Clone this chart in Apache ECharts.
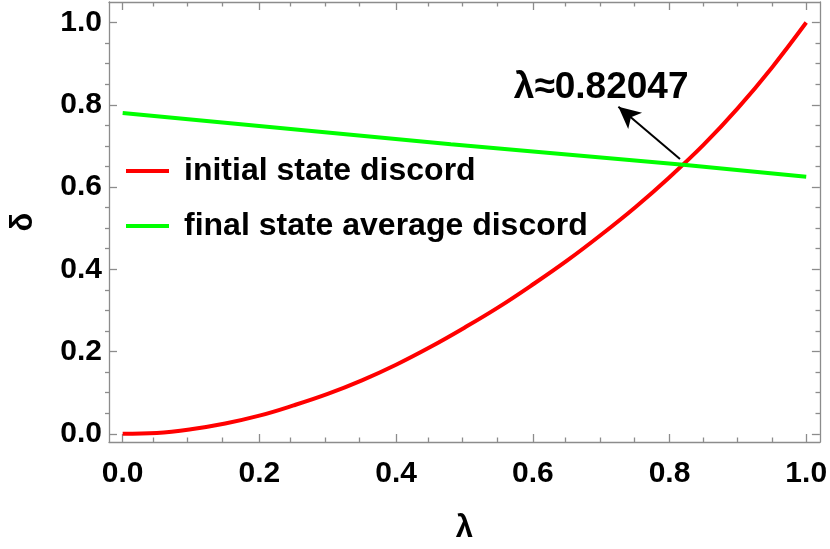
<!DOCTYPE html>
<html>
<head>
<meta charset="utf-8">
<script src="https://cdn.jsdelivr.net/npm/echarts@6/dist/echarts.min.js"></script>
<style>
  html, body { margin: 0; padding: 0; background: #fff; }
  #chart { width: 830px; height: 549px; }
</style>
</head>
<body>
<div id="chart"></div>
<script>
// data
const lambdaVals = [0, 0.05, 0.1, 0.15, 0.2, 0.25, 0.3, 0.35, 0.4, 0.45, 0.5,
  0.55, 0.6, 0.65, 0.7, 0.75, 0.8, 0.85, 0.9, 0.95, 1.0];
const initialDiscord = [0, 0.002, 0.011, 0.025, 0.044, 0.069, 0.097, 0.130, 0.168, 0.211, 0.258,
  0.308, 0.363, 0.421, 0.484, 0.551, 0.624, 0.703, 0.792, 0.891, 1.0];
const finalLambda = [0, 0.48, 0.82, 1.0];
const finalAvgDiscord = [0.780, 0.704, 0.654, 0.625];
const majorTicks = [0, 0.2, 0.4, 0.6, 0.8, 1.0];
const minorTicks = [0.05, 0.1, 0.15, 0.25, 0.3, 0.35, 0.45, 0.5, 0.55, 0.65, 0.7, 0.75, 0.85, 0.9, 0.95];
const noteText = 'λ≈0.82047';
const notePos = [0.70, 0.842];
const arrowFrom = [0.8153, 0.668];
const arrowTo = [0.7252, 0.7955];

const FONT = '"Liberation Sans", Arial, sans-serif';
const GRAY = '#8c8c8c';

function axis (dim, pos, grid, ticks, len, main) {
  let range = dim === 'x' ? [-0.02, 1.02] : [-0.02, 1.05];
  let a = {
    type: 'value',
    gridIndex: grid,
    position: pos,
    min: range[0],
    max: range[1],
    axisLine: { show: main, onZero: false, lineStyle: { color: GRAY, width: 1.3 } },
    axisTick: { show: true, inside: true, length: len, customValues: ticks, lineStyle: { color: GRAY, width: 1.3 } },
    axisLabel: { show: false },
    splitLine: { show: false }
  };
  return a;
}

let xBottom = axis('x', 'bottom', 0, majorTicks, 8, true);
xBottom.axisLabel = {
  show: true, customValues: majorTicks, margin: 17,
  formatter: (v) => v.toFixed(1),
  color: '#000', fontFamily: FONT, fontWeight: 'bold', fontSize: 30
};
xBottom.name = 'λ';
xBottom.nameLocation = 'middle';
xBottom.nameGap = 71;
xBottom.nameTextStyle = { color: '#000', fontFamily: FONT, fontWeight: 'bold', fontSize: 31 };

let yLeft = axis('y', 'left', 0, majorTicks, 8, true);
yLeft.axisLabel = {
  show: true, customValues: majorTicks, margin: 7,
  formatter: (v) => v.toFixed(1),
  color: '#000', fontFamily: FONT, fontWeight: 'bold', fontSize: 30
};
yLeft.name = 'δ';
yLeft.nameLocation = 'middle';
yLeft.nameGap = 70;
yLeft.nameTextStyle = { color: '#000', fontFamily: FONT, fontWeight: 'bold', fontSize: 31 };

let option = {
  animation: false,
  grid: [
    { left: 105, right: 10, top: 2, bottom: 107 },
    { left: 105, right: 10, top: 2, bottom: 107 }
  ],
  legend: {
    orient: 'vertical',
    left: 121,
    top: 148,
    itemWidth: 43,
    itemHeight: 4,
    itemGap: 19,
    textStyle: { color: '#000', fontFamily: FONT, fontWeight: 'bold', fontSize: 32, lineHeight: 36, padding: [0, 0, 0, 10] },
    data: [
      { name: 'initial state discord', icon: 'rect' },
      { name: 'final state average discord', icon: 'rect' }
    ]
  },
  xAxis: [
    xBottom,
    axis('x', 'top', 0, majorTicks, 8, true),
    axis('x', 'bottom', 1, minorTicks, 4.5, false),
    axis('x', 'top', 1, minorTicks, 4.5, false)
  ],
  yAxis: [
    yLeft,
    axis('y', 'right', 0, majorTicks, 8, true),
    axis('y', 'left', 1, minorTicks, 4.5, false),
    axis('y', 'right', 1, minorTicks, 4.5, false)
  ],
  series: [
    {
      name: 'initial state discord',
      type: 'line',
      xAxisIndex: 0,
      yAxisIndex: 0,
      smooth: 0.4,
      symbol: 'none',
      color: '#ff0000',
      lineStyle: { color: '#ff0000', width: 4 },
      data: lambdaVals.map((x, i) => [x, initialDiscord[i]])
    },
    {
      name: 'final state average discord',
      type: 'line',
      xAxisIndex: 0,
      yAxisIndex: 0,
      symbol: 'none',
      color: '#00ff00',
      lineStyle: { color: '#00ff00', width: 4 },
      data: finalLambda.map((x, i) => [x, finalAvgDiscord[i]]),
      markPoint: {
        symbol: 'circle',
        symbolSize: 0,
        label: {
          show: true, position: 'inside', formatter: noteText,
          color: '#000', fontFamily: FONT, fontWeight: 'bold', fontSize: 37
        },
        data: [{ coord: notePos }]
      },
      markLine: {
        silent: true,
        symbol: ['none', 'arrow'],
        symbolSize: [16, 22],
        lineStyle: { color: '#000', width: 2, type: 'solid' },
        label: { show: false },
        data: [[{ coord: arrowFrom }, { coord: arrowTo }]]
      }
    }
  ]
};

let myChart = echarts.init(document.getElementById('chart'));
myChart.setOption(option);
</script>
</body>
</html>
